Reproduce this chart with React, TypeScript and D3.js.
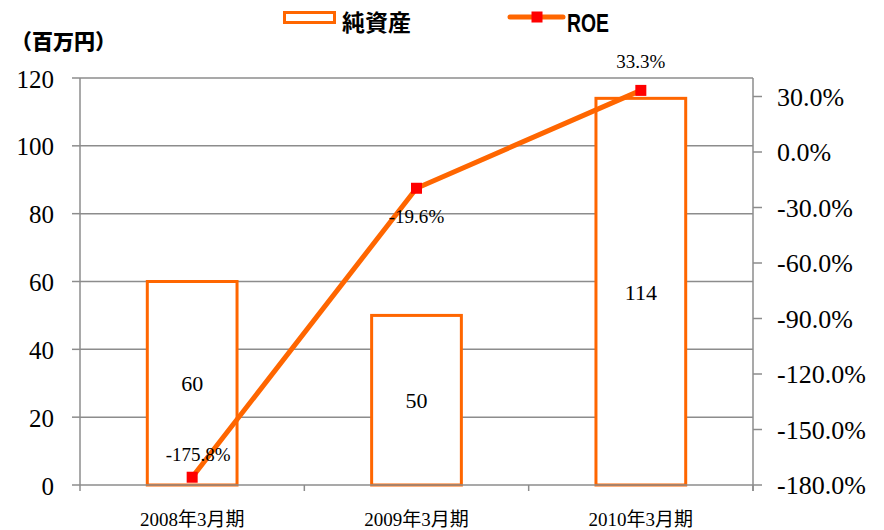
import React from "react";
import * as d3 from "d3";

const categories = ["2008年3月期", "2009年3月期", "2010年3月期"];
const netAssets = [60, 50, 114];
const roe = [-175.8, -19.6, 33.3];
const leftTicks = [0, 20, 40, 60, 80, 100, 120];
const rightTicks = [30, 0, -30, -60, -90, -120, -150, -180];

const W = 884, H = 530;
const M = { left: 80, right: 753, top: 78, bottom: 485 };
const ORANGE = "#FF6600";
const SERIF = "'Liberation Serif', 'Times New Roman', serif";
const SANS = "'Noto Sans CJK JP', 'Noto Sans', sans-serif";

export default function App() {
  const x = d3.scaleBand<string>().domain(categories).range([M.left, M.right]).paddingInner(0.6).paddingOuter(0.3);
  const xb = d3.scaleBand<string>().domain(categories).range([M.left, M.right]);
  const yL = d3.scaleLinear().domain([0, 120]).range([M.bottom, M.top]);
  const yR = d3.scaleLinear().domain([-180, 40]).range([M.bottom, M.top]);
  const cx = (c: string) => (xb(c) as number) + xb.bandwidth() / 2;
  const line = d3.line<number>().x((_, i) => cx(categories[i])).y((d) => yR(d));
  const gridColor = "#8c8c8c";

  return (
    <svg width={W} height={H} style={{ position: "absolute", left: 0, top: 0 }}>
      <rect width={W} height={H} fill="#fff" />
      {/* gridlines */}
      {leftTicks.filter((t) => t > 0).map((t) => (
        <line key={t} x1={M.left} x2={M.right} y1={yL(t)} y2={yL(t)} stroke={gridColor} strokeWidth={1.5} />
      ))}
      {/* left axis */}
      <line x1={M.left} x2={M.left} y1={M.top} y2={M.bottom + 6} stroke={gridColor} strokeWidth={1.5} />
      {leftTicks.map((t) => (
        <g key={t}>
          <line x1={M.left - 8} x2={M.left} y1={yL(t)} y2={yL(t)} stroke={gridColor} strokeWidth={1.5} />
          <text x={54} y={yL(t) + 9.5} textAnchor="end" fontFamily={SERIF} fontSize={25} fill="#000">{t}</text>
        </g>
      ))}
      {/* right axis */}
      <line x1={M.right} x2={M.right} y1={M.top} y2={M.bottom + 6} stroke={gridColor} strokeWidth={1.5} />
      {rightTicks.map((t) => (
        <g key={t}>
          <line x1={M.right} x2={M.right + 9} y1={yR(t)} y2={yR(t)} stroke={gridColor} strokeWidth={1.5} />
          <text x={777} y={yR(t) + 9} textAnchor="start" fontFamily={SERIF} fontSize={26} fill="#000">{t.toFixed(1)}%</text>
        </g>
      ))}
      {/* bars */}
      {categories.map((c, i) => (
        <rect key={c} x={x(c)} y={yL(netAssets[i])} width={x.bandwidth()} height={M.bottom - yL(netAssets[i])} fill="#fff" stroke={ORANGE} strokeWidth={3} />
      ))}
      {/* x axis */}
      <line x1={M.left} x2={M.right} y1={M.bottom} y2={M.bottom} stroke={gridColor} strokeWidth={1.5} />
      {categories.map((c) => (
        <g key={c}>
          <line x1={(xb(c) as number) + xb.bandwidth()} x2={(xb(c) as number) + xb.bandwidth()} y1={M.bottom} y2={M.bottom + 6} stroke={gridColor} strokeWidth={1.5} />
          <text x={cx(c)} y={526} textAnchor="middle" fontFamily={SERIF + ", 'Noto Sans CJK JP'"} fontSize={19} fill="#000">{c}</text>
        </g>
      ))}
      {/* bar labels */}
      {categories.map((c, i) => (
        <text key={c} x={cx(c)} y={(yL(netAssets[i]) + M.bottom) / 2 + 8} textAnchor="middle" fontFamily={SERIF} fontSize={22} fill="#000">{netAssets[i]}</text>
      ))}
      {/* ROE line */}
      <path d={line(roe) as string} fill="none" stroke={ORANGE} strokeWidth={5} strokeLinejoin="round" />
      {roe.map((v, i) => (
        <rect key={i} x={cx(categories[i]) - 5.5} y={yR(v) - 5.5} width={11} height={11} fill="#FF0000" />
      ))}
      {/* ROE labels */}
      {roe.map((v, i) => {
        const dx = [6, 0, 0][i];
        const dyv = [-16, 35, -22][i];
        return (
          <text key={i} x={cx(categories[i]) + dx} y={yR(v) + dyv} textAnchor="middle" fontFamily={SERIF} fontSize={19} fill="#000">{v.toFixed(1)}%</text>
        );
      })}
      {/* unit */}
      <text x={11} y={49} fontFamily={SANS} fontWeight="900" fontSize={21} fill="#000">（百万円）</text>
      {/* legend */}
      <rect x={284.5} y={12.5} width={50} height={10} fill="#fff" stroke={ORANGE} strokeWidth={3} />
      <text x={342} y={31} fontFamily={SANS} fontWeight="bold" fontSize={23} fill="#000">純資産</text>
      <line x1={510} x2={563} y1={17} y2={17} stroke={ORANGE} strokeWidth={5} strokeLinecap="round" />
      <rect x={531.5} y={11.5} width={11} height={11} fill="#FF0000" />
      <text x={567} y={32} fontFamily="'Liberation Sans', sans-serif" fontWeight="bold" fontSize={26} textLength={42} lengthAdjust="spacingAndGlyphs" fill="#000">ROE</text>
    </svg>
  );
}
